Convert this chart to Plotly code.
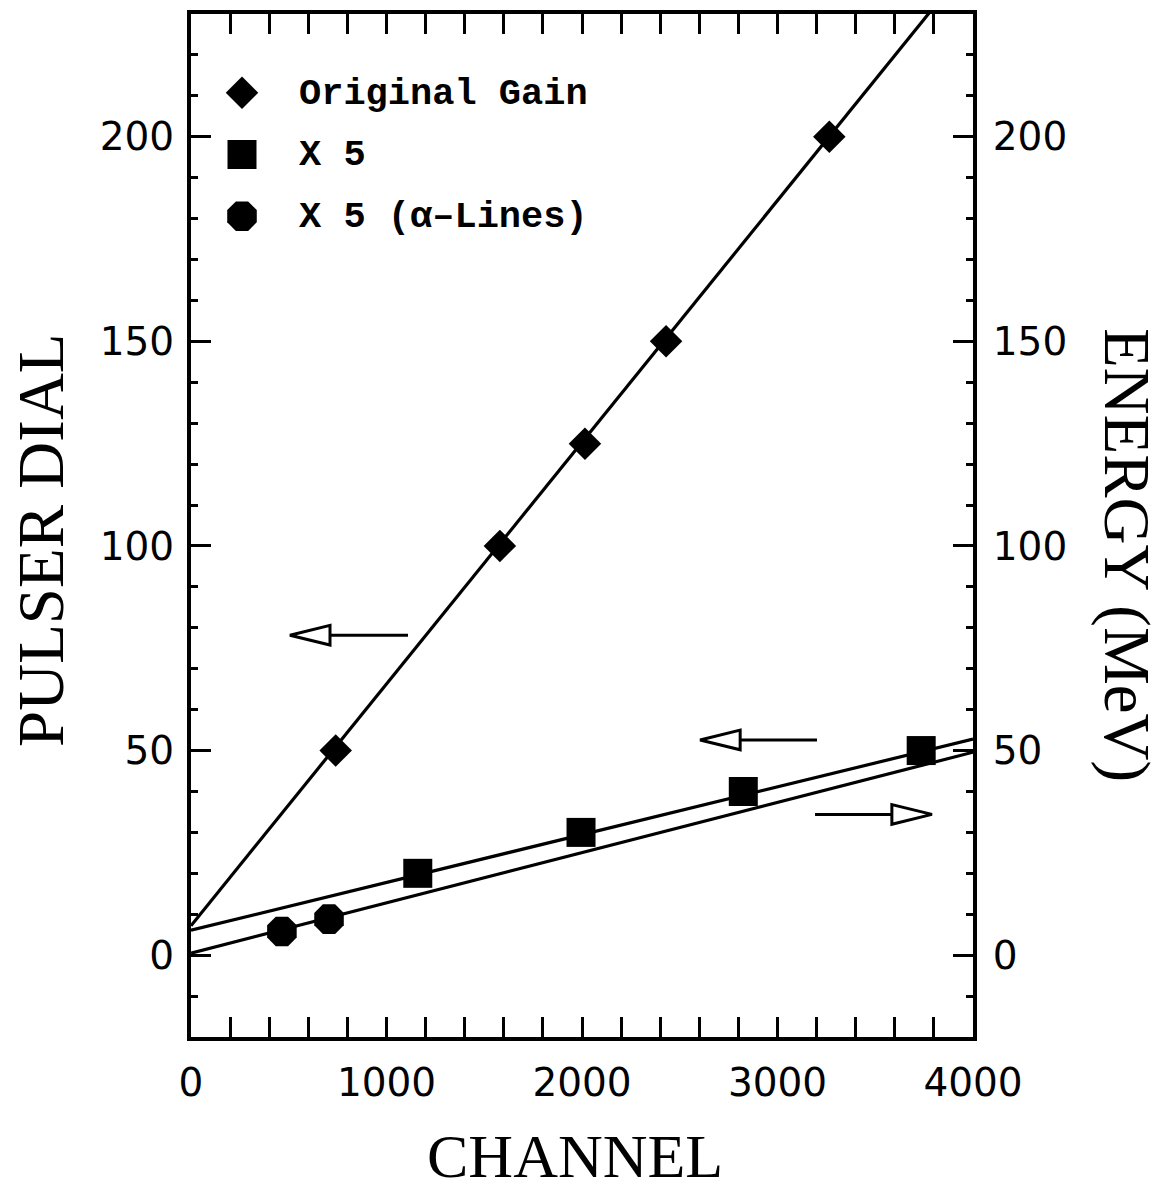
import plotly.graph_objects as go

# ---- data -------------------------------------------------------------
# Original gain: pulser dial settings and peak channels
gain_channel = [740, 1580, 2015, 2430, 3265]
gain_dial = [50, 100, 125, 150, 200]

# Gain x5: pulser dial settings and peak channels
x5_channel = [1160, 1995, 2825, 3735]
x5_dial = [20, 30, 40, 50]

# Gain x5: alpha lines (energy in MeV)
alpha_channel = [465, 706]
alpha_energy = [5.8, 8.8]

# Straight-line calibrations, evaluated at the ends of the channel range
fit_channel = [0, 4000]
gain_fit = [7.2, 243.5]     # pulser dial, original gain
x5_fit = [6.1, 52.8]        # pulser dial, gain x5
energy_fit = [0.5, 49.6]    # energy (MeV), gain x5

# Axis ticks
x_ticks = [0, 1000, 2000, 3000, 4000]
y_ticks = [0, 50, 100, 150, 200]

legend_labels = ["Original Gain", "X 5", "X 5 (\u03b1\u2013Lines)"]
legend_symbols = ["diamond", "square", "octagon"]
legend_sizes = [25, 29, 32]

# Arrows telling which axis a line is read on (tip channel, tail channel, level)
arrow_tip = [506, 2604, 3790]
arrow_tail = [1110, 3202, 3192]
arrow_level = [78.2, 52.6, 34.4]
HEAD_LEN = 205      # channels
HEAD_HALF = 2.4     # dial units

# ---- figure -----------------------------------------------------------
W, H = 1167, 1201
ML, MR, MT, MB = 191, 194, 10, 164
PW, PH = W - ML - MR, H - MT - MB


def px_x(p):
    return (p - ML) / PW


def px_y(p):
    return (H - MB - p) / PH


fig = go.Figure()

line_style = dict(color="black", width=3.2)
fig.add_trace(go.Scatter(x=fit_channel, y=gain_fit, mode="lines", line=line_style,
                         showlegend=False, hoverinfo="skip"))
fig.add_trace(go.Scatter(x=fit_channel, y=x5_fit, mode="lines", line=line_style,
                         showlegend=False, hoverinfo="skip"))
fig.add_trace(go.Scatter(x=fit_channel, y=energy_fit, mode="lines", line=line_style,
                         yaxis="y2", showlegend=False, hoverinfo="skip"))

fig.add_trace(go.Scatter(x=gain_channel, y=gain_dial, mode="markers",
                         marker=dict(symbol="diamond", size=legend_sizes[0], color="black"),
                         name=legend_labels[0], showlegend=False))
fig.add_trace(go.Scatter(x=x5_channel, y=x5_dial, mode="markers",
                         marker=dict(symbol="square", size=legend_sizes[1], color="black"),
                         name=legend_labels[1], showlegend=False))
fig.add_trace(go.Scatter(x=alpha_channel, y=alpha_energy, mode="markers", yaxis="y2",
                         marker=dict(symbol="octagon", size=legend_sizes[2], color="black"),
                         name=legend_labels[2], showlegend=False))

# Legend drawn on its own small hidden axes so the symbols keep full size
for i, (sym, size) in enumerate(zip(legend_symbols, legend_sizes)):
    fig.add_trace(go.Scatter(x=[0.5], y=[i + 0.5], xaxis="x3", yaxis="y3", mode="markers",
                             marker=dict(symbol=sym, size=size, color="black"),
                             showlegend=False, hoverinfo="skip"))

legend_rows_px = [89, 151, 213]
annotations = []
for label, row in zip(legend_labels, legend_rows_px):
    annotations.append(dict(text=label, x=px_x(297), y=px_y(row + 1), xref="paper", yref="paper",
                            xanchor="left", yanchor="middle", showarrow=False,
                            font=dict(family="Liberation Mono", size=37, color="black",
                                      weight="bold")))

title_font = dict(family="Liberation Serif", color="black")
annotations += [
    dict(text="PULSER DIAL", x=px_x(41), y=px_y(538), xref="paper", yref="paper",
         textangle=-90, showarrow=False, xanchor="center", yanchor="middle",
         font=dict(size=65, **title_font)),
    dict(text="ENERGY (MeV)", x=px_x(1127), y=px_y(553), xref="paper", yref="paper",
         textangle=90, showarrow=False, xanchor="center", yanchor="middle",
         font=dict(size=65, **title_font)),
    dict(text="CHANNEL", x=px_x(575), y=px_y(1156), xref="paper", yref="paper",
         showarrow=False, xanchor="center", yanchor="middle",
         font=dict(size=62, **title_font)),
]

shapes = []
for tip, tail, lvl in zip(arrow_tip, arrow_tail, arrow_level):
    d = 1 if tip > tail else -1
    base = tip - d * HEAD_LEN
    shapes.append(dict(type="line", xref="x", yref="y", x0=tail, x1=base, y0=lvl, y1=lvl,
                       line=dict(color="black", width=3)))
    shapes.append(dict(type="path", xref="x", yref="y",
                       path=f"M {tip},{lvl} L {base},{lvl + HEAD_HALF} L {base},{lvl - HEAD_HALF} Z",
                       fillcolor="white", line=dict(color="black", width=3)))

tick_font = dict(family="DejaVu Sans", size=39, color="black")
axis_common = dict(showgrid=False, zeroline=False, showline=True, linecolor="black",
                   linewidth=4, ticks="inside", ticklen=20, tickwidth=3,
                   tickcolor="black", tickfont=tick_font)
minor_common = dict(ticks="inside", ticklen=7, tickwidth=2.5, tickcolor="black", showgrid=False)

fig.update_layout(
    width=W, height=H,
    margin=dict(l=ML, r=MR, t=MT, b=MB),
    paper_bgcolor="white", plot_bgcolor="white",
    showlegend=False,
    xaxis=dict(range=[0, 4000], tickvals=x_ticks, mirror="allticks",
               minor=dict(dtick=200, tick0=0, **minor_common),
               ticklabelstandoff=8, **axis_common),
    yaxis=dict(range=[-20, 230], tickvals=y_ticks,
               minor=dict(dtick=10, tick0=0, **minor_common),
               ticklabelstandoff=5, **axis_common),
    yaxis2=dict(range=[-20, 230], tickvals=y_ticks, overlaying="y", side="right",
                minor=dict(dtick=10, tick0=0, **minor_common),
                ticklabelstandoff=8, **axis_common),
    xaxis3=dict(domain=[px_x(222), px_x(262)], range=[0, 1], visible=False,
                anchor="y3", fixedrange=True),
    yaxis3=dict(domain=[px_y(244), px_y(58)], range=[3, 0], visible=False,
                anchor="x3", fixedrange=True),
    annotations=annotations,
    shapes=shapes,
)

fig.write_html("out.html")
